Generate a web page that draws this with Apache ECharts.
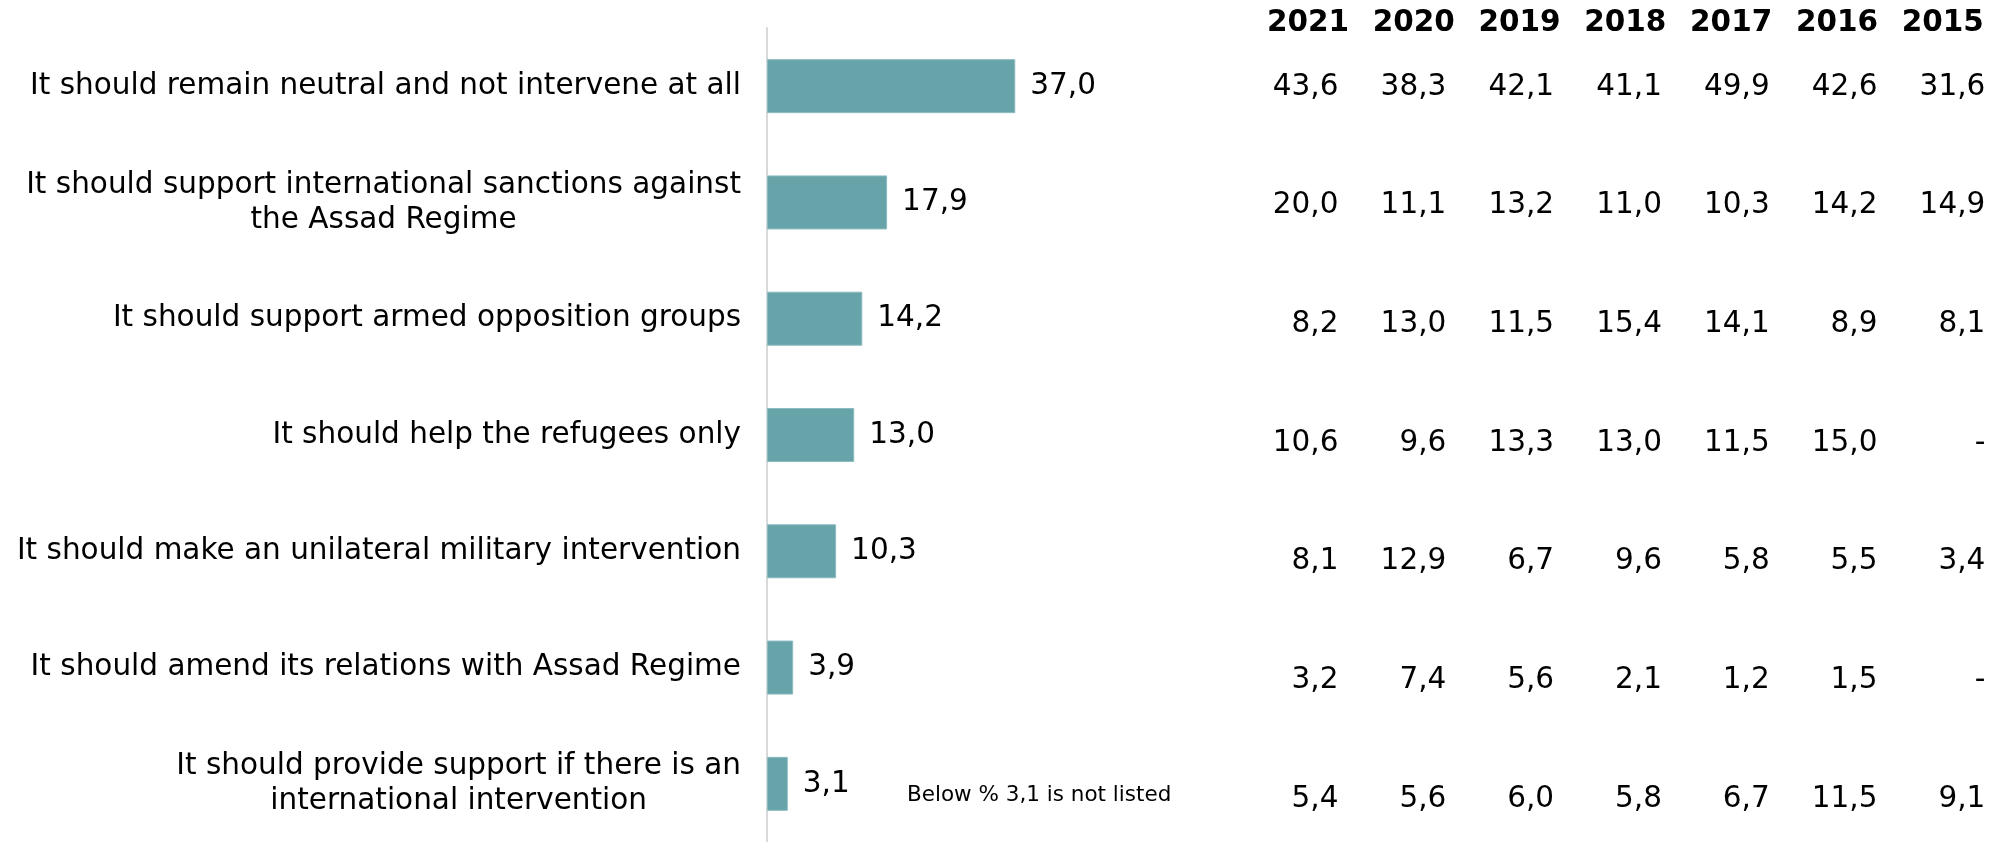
<!DOCTYPE html>
<html>
<head>
<meta charset="utf-8">
<script src="https://cdn.jsdelivr.net/npm/echarts@6/dist/echarts.min.js"></script>
<style>
  html, body { margin: 0; padding: 0; background: #ffffff; }
  #chart { width: 2008px; height: 842px; }
</style>
</head>
<body>
<div id="chart"></div>
<script>
// ---- Data ----
const categories = [
  'It should remain neutral and not intervene at all',
  'It should support international sanctions against\nthe Assad Regime',
  'It should support armed opposition groups',
  'It should help the refugees only',
  'It should make an unilateral military intervention',
  'It should amend its relations with Assad Regime',
  'It should provide support if there is an\ninternational intervention'
];
const current = [37.0, 17.9, 14.2, 13.0, 10.3, 3.9, 3.1];

const years = ['2021', '2020', '2019', '2018', '2017', '2016', '2015'];
const y2021 = [43.6, 20.0, 8.2, 10.6, 8.1, 3.2, 5.4];
const y2020 = [38.3, 11.1, 13.0, 9.6, 12.9, 7.4, 5.6];
const y2019 = [42.1, 13.2, 11.5, 13.3, 6.7, 5.6, 6.0];
const y2018 = [41.1, 11.0, 15.4, 13.0, 9.6, 2.1, 5.8];
const y2017 = [49.9, 10.3, 14.1, 11.5, 5.8, 1.2, 6.7];
const y2016 = [42.6, 14.2, 8.9, 15.0, 5.5, 1.5, 11.5];
const y2015 = [31.6, 14.9, 8.1, null, 3.4, null, 9.1];
const yearColumns = [y2021, y2020, y2019, y2018, y2017, y2016, y2015];

const note = 'Below % 3,1 is not listed';

// ---- Helpers ----
const FONT = 'DejaVu Sans';
const fmt = v => (v == null ? '-' : v.toFixed(1).replace('.', ','));

// ---- Layout constants ----
const gridLeft = 767, gridTop = 28, gridHeight = 818;
const xMax = 50, pxPerUnit = 6.71;
const headerRight0 = 1349, headerStep = 105.8, headerY = 23;
const numRight0 = 1338.5, numStep = 107.8, rowY0 = 87, rowStep = 118.7;

const graphics = [];
years.forEach((yr, c) => {
  graphics.push({
    type: 'text',
    x: headerRight0 + c * headerStep, y: headerY,
    style: { text: yr, fontFamily: FONT, fontWeight: 'bold', fontSize: 29.5,
             fill: '#000', align: 'right', verticalAlign: 'middle' }
  });
  yearColumns[c].forEach((v, r) => {
    graphics.push({
      type: 'text',
      x: numRight0 + c * numStep, y: rowY0 + r * rowStep,
      style: { text: fmt(v), fontFamily: FONT, fontSize: 29.5,
               fill: '#000', align: 'right', verticalAlign: 'middle' }
    });
  });
});
graphics.push({
  type: 'text', x: 907, y: 795,
  style: { text: note, fontFamily: FONT, fontSize: 21.5, fill: '#000',
           align: 'left', verticalAlign: 'middle' }
});

const chart = echarts.init(document.getElementById('chart'));
chart.setOption({
  animation: false,
  backgroundColor: '#ffffff',
  grid: { left: gridLeft, top: gridTop, height: gridHeight, width: xMax * pxPerUnit, containLabel: false },
  xAxis: { type: 'value', min: 0, max: xMax, show: false },
  yAxis: {
    type: 'category',
    data: categories,
    inverse: true,
    axisLine: { show: true, lineStyle: { color: '#d9d9d9', width: 2 } },
    axisTick: { show: false },
    splitLine: { show: false },
    axisLabel: {
      margin: 26,
      align: 'right',
      fontFamily: FONT,
      fontSize: 29.5,
      color: '#000',
      lineHeight: 35,
      formatter: v => v.split('\n').map(l => '{c|' + l + '}').join('\n'),
      rich: { c: { align: 'center', fontFamily: FONT, fontSize: 29.5, color: '#000', lineHeight: 35 } }
    }
  },
  series: [{
    type: 'bar',
    data: current,
    barWidth: 54,
    itemStyle: { color: '#66a4aa', borderColor: '#8cbbc0', borderWidth: 1 },
    label: {
      show: true, position: 'right', distance: 15,
      fontFamily: FONT, fontSize: 29.5, color: '#000',
      formatter: p => fmt(p.value)
    }
  }],
  graphic: graphics
});
</script>
</body>
</html>
